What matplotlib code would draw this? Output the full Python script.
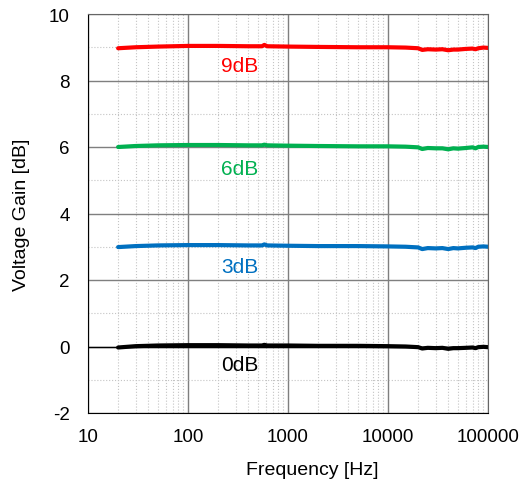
import numpy as np
import matplotlib.pyplot as plt
from matplotlib.ticker import FixedLocator, LogLocator, NullFormatter

plt.rcParams['font.family'] = ['Liberation Sans', 'DejaVu Sans']

# frequency points [Hz]
freq = [20, 30, 50, 100, 200, 400, 550, 580, 620, 1000, 2000, 5000, 10000,
        15000, 20000, 22000, 25000, 30000, 35000, 40000, 45000, 50000,
        60000, 70000, 75000, 80000, 90000, 100000]

gain_9db = [8.97, 9.00, 9.02, 9.04, 9.04, 9.03, 9.03, 9.07, 9.03, 9.02, 9.01,
            9.00, 9.00, 8.99, 8.97, 8.92, 8.94, 8.93, 8.94, 8.91, 8.93, 8.93,
            8.95, 8.96, 8.94, 8.97, 8.99, 8.98]
gain_6db = [6.00, 6.03, 6.05, 6.06, 6.06, 6.05, 6.05, 6.07, 6.05, 6.04, 6.03,
            6.02, 6.02, 6.01, 5.99, 5.94, 5.97, 5.96, 5.96, 5.93, 5.96, 5.95,
            5.97, 5.99, 5.96, 6.00, 6.01, 6.00]
gain_3db = [2.99, 3.02, 3.04, 3.05, 3.05, 3.04, 3.04, 3.07, 3.04, 3.03, 3.02,
            3.02, 3.01, 3.00, 2.98, 2.93, 2.96, 2.95, 2.96, 2.93, 2.96, 2.95,
            2.97, 2.98, 2.96, 3.00, 3.01, 3.00]
gain_0db = [-0.03, 0.01, 0.03, 0.04, 0.04, 0.03, 0.03, 0.05, 0.03, 0.03, 0.02,
            0.02, 0.01, 0.00, -0.02, -0.06, -0.04, -0.05, -0.04, -0.07, -0.05,
            -0.05, -0.04, -0.03, -0.05, -0.02, -0.01, -0.02]

series = [
    (gain_9db, '#ff0000', '9dB', 8.45),
    (gain_6db, '#00b050', '6dB', 5.36),
    (gain_3db, '#0070c0', '3dB', 2.42),
    (gain_0db, '#000000', '0dB', -0.55),
]

fig = plt.figure(figsize=(5.23, 4.85), dpi=100)
ax = fig.add_axes([88 / 523, 71 / 485, 400 / 523, 399 / 485])

ax.set_xscale('log')
ax.set_xlim(10, 100000)
ax.set_ylim(-2, 10)

ax.xaxis.set_major_locator(FixedLocator([10, 100, 1000, 10000, 100000]))
ax.xaxis.set_minor_locator(LogLocator(base=10, subs=np.arange(2, 10)))
ax.xaxis.set_minor_formatter(NullFormatter())
ax.set_xticklabels(['10', '100', '1000', '10000', '100000'])
ax.yaxis.set_major_locator(FixedLocator(np.arange(-2, 11, 2)))
ax.yaxis.set_minor_locator(FixedLocator(np.arange(-1, 10, 2)))
ax.set_yticklabels(['-2', '0', '2', '4', '6', '8', '10'])

ax.grid(which='major', color='#7f7f7f', linewidth=1.0)
ax.grid(which='minor', color='#c4c4c4', linewidth=0.8, linestyle=':')
ax.axhline(0, color='black', linewidth=1.0, zorder=1)
ax.set_axisbelow(True)

ax.tick_params(which='both', length=0, labelsize=13.5)
ax.tick_params(axis='x', pad=11)
ax.tick_params(axis='y', pad=13)

for s in ['left', 'bottom']:
    ax.spines[s].set_color('black')
for s in ['top', 'right']:
    ax.spines[s].set_color('#666666')

for vals, color, label, ly in series:
    ax.plot(freq, vals, color=color, linewidth=3, solid_capstyle='round')
    ax.text(330, ly, label, color=color, fontsize=15, ha='center', va='center')

ax.set_xlabel('Frequency [Hz]', fontsize=14, labelpad=12)
ax.xaxis.set_label_coords(0.56, -0.12)
ax.set_ylabel('Voltage Gain [dB]', fontsize=14, labelpad=14)

plt.savefig('out.png', dpi=100)
